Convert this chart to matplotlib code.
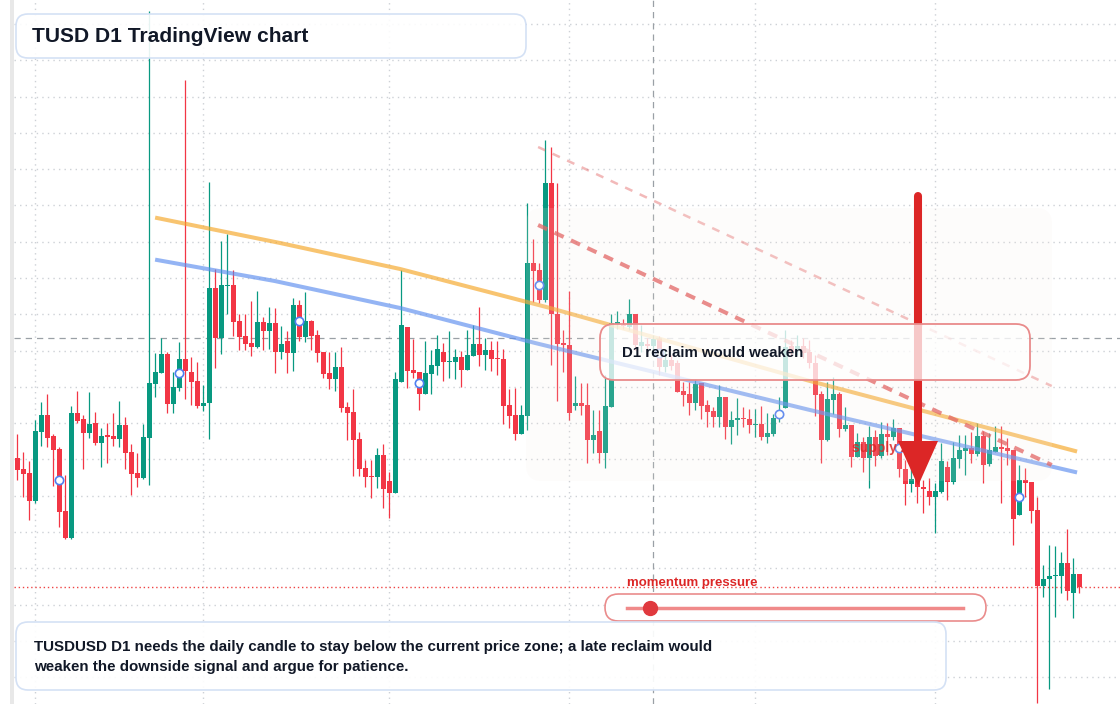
# ======================================
# TUSD D1 — candlestick chart with annotations
# ======================================

import numpy as np
import pandas as pd
import matplotlib
matplotlib.use("Agg")
import matplotlib.pyplot as plt
from matplotlib.patches import FancyBboxPatch, Rectangle, Polygon

plt.rcParams['font.family'] = ['Liberation Sans', 'DejaVu Sans']

# ======================================
# DATA (daily OHLC)
# ======================================

dates = pd.date_range("2025-01-29", periods=178, freq="D")

opens = [
    0.99880, 0.99869, 0.99865, 0.99837, 0.99906, 0.99923, 0.99902, 0.99889, 0.99827, 0.99800,
    0.99925, 0.99919, 0.99905, 0.99915, 0.99895, 0.99903, 0.99902, 0.99899, 0.99913, 0.99886,
    0.99865, 0.99860, 0.99900, 0.99954, 0.99965, 0.99984, 0.99934, 0.99950, 0.99979, 0.99966,
    0.99957, 0.99932, 0.99935, 1.00050, 1.00000, 1.00052, 1.00053, 1.00017, 1.00002, 0.99995,
    0.99991, 1.00016, 1.00007, 1.00015, 0.99986, 0.99997, 0.99985, 1.00033, 1.00001, 1.00017,
    1.00003, 0.99986, 0.99965, 0.99959, 0.99971, 0.99931, 0.99926, 0.99899, 0.99870, 0.99862,
    0.99861, 0.99883, 0.99857, 0.99845, 0.99956, 1.00011, 0.99968, 0.99966, 0.99944, 0.99964,
    0.99972, 0.99986, 0.99976, 0.99976, 0.99981, 0.99968, 0.99982, 0.99994, 0.99983, 0.99988,
    0.99980, 0.99979, 0.99933, 0.99923, 0.99904, 0.99922, 1.00075, 1.00068, 1.00038, 1.00155,
    1.00024, 0.99995, 0.99993, 0.99932, 0.99935, 0.99933, 0.99898, 0.99907, 0.99885, 0.99931,
    1.00014, 1.00013, 1.00011, 1.00024, 0.99992, 0.99994, 0.99992, 0.99999, 0.99971, 0.99978,
    0.99975, 0.99947, 0.99944, 0.99935, 0.99955, 0.99933, 0.99927, 0.99921, 0.99941, 0.99911,
    0.99918, 0.99920, 0.99919, 0.99913, 0.99914, 0.99901, 0.99904, 0.99920, 0.99930, 0.99992,
    0.99988, 0.99992, 0.99986, 0.99975, 0.99944, 0.99898, 0.99938, 0.99944, 0.99909, 0.99913,
    0.99881, 0.99896, 0.99880, 0.99901, 0.99882, 0.99904, 0.99901, 0.99910, 0.99869, 0.99854,
    0.99859, 0.99851, 0.99847, 0.99841, 0.99846, 0.99871, 0.99856, 0.99879, 0.99887, 0.99890,
    0.99884, 0.99902, 0.99874, 0.99886, 0.99891, 0.99890, 0.99888, 0.99823, 0.99858, 0.99856,
    0.99828, 0.99752, 0.99759, 0.99762, 0.99762, 0.99775, 0.99745, 0.99764,
]

highs = [
    0.99904, 0.99886, 0.99877, 0.99918, 0.99936, 0.99944, 0.99904, 0.99891, 0.99863, 0.99932,
    0.99947, 0.99923, 0.99946, 0.99926, 0.99910, 0.99915, 0.99925, 0.99937, 0.99921, 0.99894,
    0.99885, 0.99914, 1.00327, 0.99985, 1.00000, 0.99986, 0.99966, 0.99996, 1.00258, 0.99981,
    0.99976, 0.99953, 1.00156, 1.00069, 1.00097, 1.00104, 1.00068, 1.00024, 1.00024, 1.00037,
    1.00047, 1.00021, 1.00031, 1.00030, 1.00012, 1.00007, 1.00040, 1.00038, 1.00046, 1.00018,
    1.00008, 0.99986, 0.99986, 0.99986, 0.99991, 0.99936, 0.99949, 0.99906, 0.99878, 0.99878,
    0.99890, 0.99894, 0.99866, 0.99966, 1.00068, 1.00011, 0.99999, 0.99966, 0.99997, 0.99988,
    1.00003, 0.99995, 1.00007, 0.99989, 0.99987, 1.00008, 1.00013, 1.00031, 1.00000, 0.99997,
    0.99997, 0.99989, 0.99949, 0.99950, 0.99933, 1.00135, 1.00099, 1.00075, 1.00198, 1.00191,
    1.00155, 1.00008, 1.00047, 0.99962, 0.99955, 0.99955, 0.99928, 0.99928, 0.99963, 1.00024,
    1.00027, 1.00019, 1.00039, 1.00024, 1.00013, 1.00000, 1.00003, 1.00002, 0.99988, 0.99983,
    0.99978, 0.99956, 0.99956, 0.99959, 0.99955, 0.99938, 0.99931, 0.99953, 0.99941, 0.99927,
    0.99940, 0.99931, 0.99929, 0.99929, 0.99932, 0.99925, 0.99924, 0.99941, 1.00008, 0.99998,
    1.00003, 1.00000, 0.99998, 0.99983, 0.99947, 0.99956, 0.99961, 0.99946, 0.99931, 0.99913,
    0.99905, 0.99901, 0.99912, 0.99908, 0.99916, 0.99915, 0.99919, 0.99910, 0.99878, 0.99881,
    0.99868, 0.99858, 0.99860, 0.99855, 0.99895, 0.99877, 0.99896, 0.99903, 0.99903, 0.99906,
    0.99915, 0.99907, 0.99905, 0.99912, 0.99912, 0.99900, 0.99888, 0.99873, 0.99870, 0.99856,
    0.99841, 0.99773, 0.99793, 0.99792, 0.99786, 0.99809, 0.99780, 0.99764,
]

lows = [
    0.99858, 0.99841, 0.99818, 0.99835, 0.99892, 0.99891, 0.99852, 0.99811, 0.99799, 0.99799,
    0.99915, 0.99869, 0.99900, 0.99893, 0.99871, 0.99875, 0.99892, 0.99891, 0.99869, 0.99843,
    0.99851, 0.99859, 0.99853, 0.99941, 0.99965, 0.99925, 0.99925, 0.99947, 0.99939, 0.99933,
    0.99930, 0.99927, 0.99899, 0.99970, 0.99984, 1.00024, 1.00002, 0.99988, 0.99988, 0.99982,
    0.99990, 0.99988, 0.99989, 0.99965, 0.99979, 0.99965, 0.99967, 0.99997, 0.99996, 0.99988,
    0.99976, 0.99960, 0.99949, 0.99947, 0.99926, 0.99898, 0.99862, 0.99862, 0.99851, 0.99840,
    0.99850, 0.99830, 0.99820, 0.99845, 0.99956, 0.99950, 0.99960, 0.99928, 0.99944, 0.99944,
    0.99963, 0.99957, 0.99960, 0.99959, 0.99951, 0.99968, 0.99982, 0.99972, 0.99968, 0.99967,
    0.99963, 0.99914, 0.99910, 0.99898, 0.99904, 0.99908, 1.00036, 1.00035, 1.00036, 0.99973,
    0.99937, 0.99966, 0.99918, 0.99928, 0.99923, 0.99875, 0.99885, 0.99875, 0.99870, 0.99931,
    1.00009, 1.00009, 1.00008, 0.99988, 0.99986, 0.99986, 0.99988, 0.99963, 0.99966, 0.99968,
    0.99946, 0.99932, 0.99923, 0.99928, 0.99919, 0.99911, 0.99911, 0.99911, 0.99899, 0.99894,
    0.99903, 0.99911, 0.99905, 0.99901, 0.99898, 0.99895, 0.99902, 0.99916, 0.99930, 0.99982,
    0.99983, 0.99980, 0.99970, 0.99922, 0.99875, 0.99897, 0.99924, 0.99901, 0.99907, 0.99871,
    0.99881, 0.99866, 0.99850, 0.99872, 0.99880, 0.99883, 0.99898, 0.99861, 0.99833, 0.99846,
    0.99835, 0.99825, 0.99833, 0.99805, 0.99845, 0.99838, 0.99854, 0.99870, 0.99863, 0.99875,
    0.99882, 0.99855, 0.99872, 0.99886, 0.99835, 0.99873, 0.99793, 0.99823, 0.99841, 0.99815,
    0.99635, 0.99741, 0.99649, 0.99721, 0.99745, 0.99738, 0.99720, 0.99745,
]

closes = [
    0.99868, 0.99864, 0.99837, 0.99907, 0.99923, 0.99900, 0.99888, 0.99826, 0.99800, 0.99925,
    0.99917, 0.99905, 0.99914, 0.99895, 0.99902, 0.99901, 0.99899, 0.99913, 0.99885, 0.99864,
    0.99860, 0.99901, 0.99955, 0.99966, 0.99984, 0.99934, 0.99951, 0.99979, 0.99967, 0.99956,
    0.99932, 0.99935, 1.00050, 1.00000, 1.00053, 1.00053, 1.00016, 1.00001, 0.99994, 0.99991,
    1.00016, 1.00007, 1.00015, 0.99986, 0.99994, 0.99985, 1.00033, 1.00001, 1.00017, 1.00002,
    0.99985, 0.99964, 0.99959, 0.99971, 0.99930, 0.99925, 0.99898, 0.99869, 0.99861, 0.99861,
    0.99883, 0.99849, 0.99845, 0.99959, 1.00013, 0.99967, 0.99965, 0.99944, 0.99965, 0.99973,
    0.99989, 0.99976, 0.99977, 0.99981, 0.99968, 0.99983, 0.99994, 0.99983, 0.99988, 0.99979,
    0.99979, 0.99932, 0.99922, 0.99904, 0.99923, 1.00075, 1.00067, 1.00038, 1.00155, 1.00024,
    0.99994, 0.99993, 0.99925, 0.99935, 0.99932, 0.99898, 0.99903, 0.99885, 0.99932, 1.00015,
    1.00016, 1.00012, 1.00024, 0.99993, 0.99996, 0.99992, 0.99999, 0.99971, 0.99978, 0.99972,
    0.99946, 0.99943, 0.99935, 0.99954, 0.99932, 0.99926, 0.99921, 0.99941, 0.99911, 0.99918,
    0.99920, 0.99919, 0.99913, 0.99914, 0.99901, 0.99905, 0.99920, 0.99928, 0.99991, 0.99986,
    0.99992, 0.99985, 0.99975, 0.99943, 0.99898, 0.99939, 0.99944, 0.99909, 0.99913, 0.99881,
    0.99896, 0.99880, 0.99901, 0.99882, 0.99904, 0.99901, 0.99910, 0.99869, 0.99854, 0.99859,
    0.99851, 0.99849, 0.99841, 0.99847, 0.99877, 0.99856, 0.99880, 0.99888, 0.99890, 0.99884,
    0.99902, 0.99873, 0.99888, 0.99891, 0.99889, 0.99887, 0.99819, 0.99858, 0.99855, 0.99827,
    0.99752, 0.99759, 0.99762, 0.99763, 0.99775, 0.99747, 0.99764, 0.99751,
]

# trend lines drawn on the chart: (candle index, price)
orange_idx   = [23.3, 43.8, 63.8, 88.8, 132.1, 176.3]
orange_price = [1.00120, 1.00095, 1.00069, 1.00030, 0.99957, 0.99887]
blue_idx     = [23.3, 42.9, 63.8, 86.3, 132.1, 176.3]
blue_price   = [1.00078, 1.00057, 1.00030, 0.99995, 0.99928, 0.99866]
chan_idx        = [86.8, 172.4]
chan_upper      = [1.00191, 0.99952]
chan_lower      = [1.00113, 0.99873]

crosshair_idx = 106
crosshair_price = 1.00000

# ======================================
# STYLE
# ======================================

GREEN = "#089981"
RED = "#f23645"
W, H = 1120, 704
Y_TOP, Y_BOT = 1.00338, 0.99634

# ======================================
# FIGURE
# ======================================

fig = plt.figure(figsize=(W / 100, H / 100), dpi=100)
fig.patch.set_facecolor("white")

ax = fig.add_axes([14 / W, 0, 1 - 14 / W, 1])
ax.set_facecolor("white")
for s in ax.spines.values():
    s.set_visible(False)

x = np.arange(len(dates))
o = np.array(opens)
h = np.array(highs)
l = np.array(lows)
c = np.array(closes)

# grid: month starts and fixed price steps
month_idx = x[dates.day == 1]
grid_levels = 1.00314 - 0.0003629 * np.arange(20)
grid_levels = grid_levels[grid_levels > Y_BOT]
ax.set_xticks(month_idx)
ax.set_yticks(grid_levels)
ax.tick_params(length=0, labelleft=False, labelbottom=False)
ax.grid(True, color="#cdd1d6", ls=(0, (1, 3)), lw=1)
ax.set_axisbelow(True)

# candles
col = np.where(c >= o, GREEN, RED)
ax.vlines(x, l, h, colors=col, lw=0.9, zorder=3)
body_lo = np.minimum(o, c)
body_h = np.maximum(np.abs(c - o), 0.00001)
ax.bar(x, body_h, bottom=body_lo, width=0.78, color=col, lw=0, zorder=4)

# trend lines
ax.plot(orange_idx, orange_price, color="#f5a524", alpha=0.65, lw=2.9, zorder=5)
ax.plot(blue_idx, blue_price, color="#5b8def", alpha=0.65, lw=2.9, zorder=5)
ax.plot(chan_idx, chan_upper, color="#e05252", alpha=0.4, lw=1.8,
        dashes=(3.2, 3.2), zorder=5)
ax.plot(chan_idx, chan_lower, color="#e05252", alpha=0.75, lw=2.9,
        dashes=(2.5, 2.0), zorder=5)

# crosshair and last price
ax.axvline(crosshair_idx, color="#9aa0a6", lw=0.9, dashes=(5, 4), zorder=2)
ax.axhline(crosshair_price, color="#9aa0a6", lw=0.9, dashes=(5, 4), zorder=2)
ax.axhline(c[-1], color="#ef4444", lw=1, ls=(0, (1, 2)), zorder=2)

# markers every 20 sessions
mk = np.arange(7, len(x), 20)
ax.plot(x[mk], (o[mk] + c[mk]) / 2, "o", ms=6, mfc="white", mec="#4f7ff0",
        mew=1.2, zorder=6)

ax.set_xlim((14 - 17.3) / 6, (W - 17.3) / 6)
ax.set_ylim(Y_BOT, Y_TOP)

# ======================================
# OVERLAY (pixel space)
# ======================================

ov = fig.add_axes([0, 0, 1, 1])
ov.set_xlim(0, W)
ov.set_ylim(H, 0)
ov.axis("off")
ov.patch.set_alpha(0)

ov.add_patch(Rectangle((10, 0), 4, H, color="#e8e8e8", lw=0))

# zone
ov.add_patch(FancyBboxPatch((526, 208), 526, 273, boxstyle="round,pad=0,rounding_size=16",
                            fc="#f6ece4", ec="none", alpha=0.14, zorder=1))

# supply label + arrow
ov.text(852, 448, "supply zone", color="#dc2626", alpha=0.85, fontsize=10,
        fontweight="bold", va="center", zorder=2)
ov.plot([918, 918], [196, 446], color="#dc2626", lw=5.8, solid_capstyle="round", zorder=3)
ov.add_patch(Polygon([[898, 441], [938, 441], [918, 486]], closed=True,
                     color="#dc2626", lw=0, zorder=3))

# callout box
ov.add_patch(FancyBboxPatch((600, 324), 430, 56, boxstyle="round,pad=0,rounding_size=14",
                            fc=(1, 1, 1, 0.75), ec="#e98b8b", lw=1.3, zorder=4))
ov.text(622, 353, "D1 reclaim would weaken", fontsize=10.8, fontweight="bold",
        color="#111827", va="center", zorder=5)

# title box
ov.add_patch(FancyBboxPatch((16, 14), 510, 44, boxstyle="round,pad=0,rounding_size=12",
                            fc=(1, 1, 1, 0.9), ec="#d4e1f5", lw=1.2, zorder=4))
ov.text(32, 36, "TUSD D1 TradingView chart", fontsize=15.1, fontweight="bold",
        color="#111827", va="center", zorder=5)

# momentum slider
ov.text(627, 583, "momentum pressure", fontsize=9.5, fontweight="bold",
        color="#dc2626", va="center", zorder=5)
ov.add_patch(FancyBboxPatch((605, 594), 381, 27, boxstyle="round,pad=0,rounding_size=13.5",
                            fc="white", ec="#ea8c8c", lw=1.2, zorder=4))
ov.plot([627, 963], [607.5, 607.5], color="#f08a8a", lw=2.5, zorder=5)
ov.plot([650], [607.5], "o", ms=10, color="#e0393e", zorder=6)

# note box
ov.add_patch(FancyBboxPatch((16, 622), 930, 68, boxstyle="round,pad=0,rounding_size=12",
                            fc=(1, 1, 1, 0.92), ec="#d4e1f5", lw=1.2, zorder=4))
ov.text(34, 647, "TUSDUSD D1 needs the daily candle to stay below the current price zone; "
        "a late reclaim would", fontsize=10.9, fontweight="bold", color="#111827",
        va="center", zorder=5)
ov.text(34, 667, "weaken the downside signal and argue for patience.", fontsize=10.9,
        fontweight="bold", color="#111827", va="center", zorder=5)

fig.savefig("out.png", dpi=100)
